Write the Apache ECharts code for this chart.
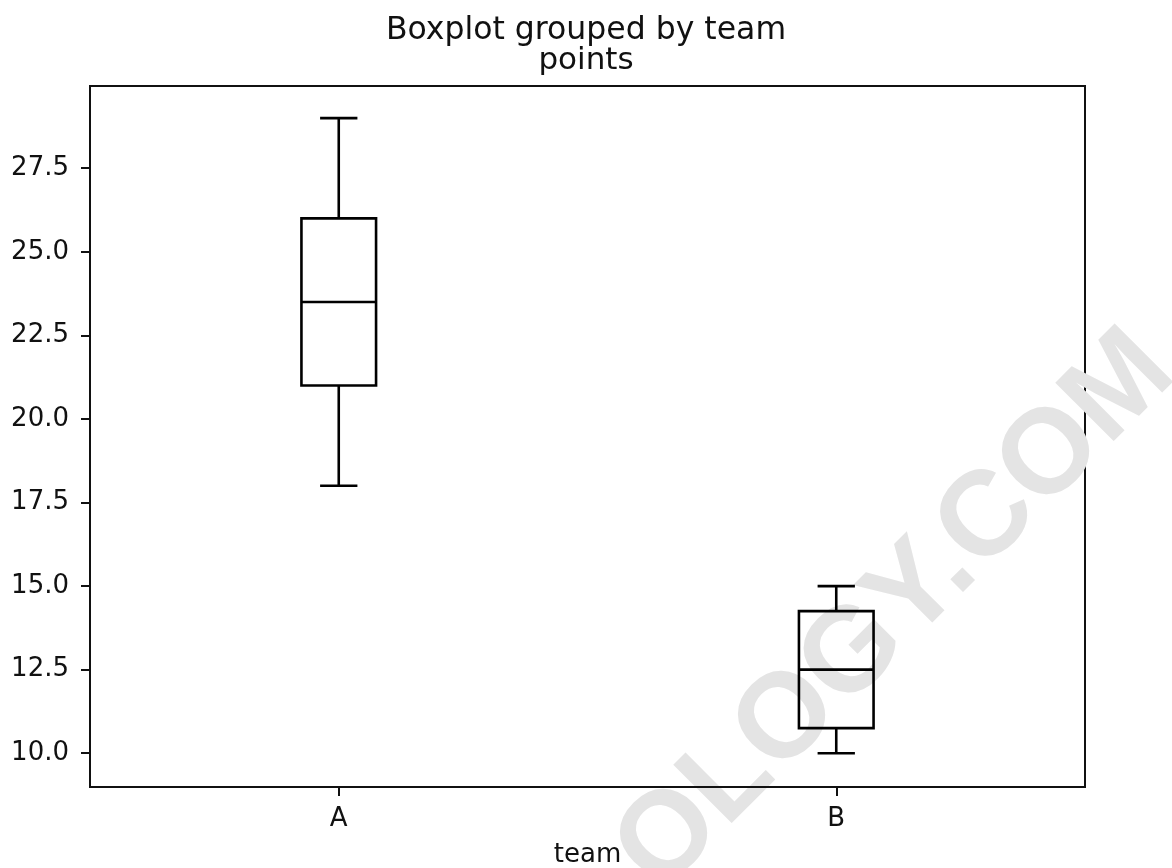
<!DOCTYPE html>
<html>
<head>
<meta charset="utf-8">
<title>Boxplot grouped by team</title>
<script src="https://cdn.jsdelivr.net/npm/echarts@6/dist/echarts.min.js"></script>
<style>
  html, body { margin: 0; padding: 0; background: #fff; }
  #chart { width: 1172px; height: 868px; }
</style>
</head>
<body>
<div id="chart"></div>
<script>
// 数据
const teams = ["A", "B"];
const mins = [18, 10];
const q1s = [21, 10.75];
const medians = [23.5, 12.5];
const q3s = [26, 14.25];
const maxs = [29, 15];
const yTicks = [10, 12.5, 15, 17.5, 20, 22.5, 25, 27.5];

const font = "DejaVu Sans";
const ink = "#111";

const chart = echarts.init(document.getElementById("chart"));

// 每组一行: [类目索引, min, q1, median, q3, max]
const boxData = teams.map((t, i) => [i, mins[i], q1s[i], medians[i], q3s[i], maxs[i]]);

const renderBox = (params, api) => {
  const i = api.value(0);
  const pMin = api.coord([i, api.value(1)]);
  const pQ1 = api.coord([i, api.value(2)]);
  const pMed = api.coord([i, api.value(3)]);
  const pQ3 = api.coord([i, api.value(4)]);
  const pMax = api.coord([i, api.value(5)]);
  const band = api.size([1, 0])[0];
  const half = band * 0.15 / 2; // 箱体半宽
  const cap = half / 2; // 须线端点半宽
  const cx = pMed[0];
  const style = { stroke: "#000", lineWidth: 2.6, fill: null };
  const line = (x1, y1, x2, y2) => ({
    type: "line",
    shape: { x1, y1, x2, y2 },
    style,
  });
  return {
    type: "group",
    children: [
      {
        type: "rect",
        shape: { x: cx - half, y: pQ3[1], width: half * 2, height: pQ1[1] - pQ3[1] },
        style,
      },
      line(cx - half, pMed[1], cx + half, pMed[1]),
      line(cx, pQ3[1], cx, pMax[1]),
      line(cx, pQ1[1], cx, pMin[1]),
      line(cx - cap, pMax[1], cx + cap, pMax[1]),
      line(cx - cap, pMin[1], cx + cap, pMin[1]),
    ],
  };
};

const options = {
  animation: false,
  backgroundColor: "#fff",
  title: [
    {
      text: "Boxplot grouped by team",
      left: "center",
      top: 9,
      textStyle: { fontFamily: font, fontSize: 31.5, fontWeight: "normal", color: ink, lineHeight: 34 },
    },
    {
      text: "points",
      left: "center",
      top: 39,
      textStyle: { fontFamily: font, fontSize: 31, fontWeight: "normal", color: ink, lineHeight: 34 },
    },
  ],
  grid: {
    left: 90,
    right: 87,
    top: 86,
    bottom: 81,
    outerBoundsMode: "none",
    show: true,
    borderColor: "#111",
    borderWidth: 2,
  },
  xAxis: {
    type: "category",
    data: teams,
    name: "team",
    nameLocation: "middle",
    nameGap: 55,
    nameTextStyle: { fontFamily: font, fontSize: 26, color: ink },
    axisLine: { show: true, lineStyle: { color: "#111", width: 2 } },
    axisTick: { show: true, alignWithLabel: true, length: 9, lineStyle: { color: "#111", width: 2 } },
    axisLabel: { fontFamily: font, fontSize: 26, color: ink, margin: 19 },
    splitLine: { show: false },
  },
  yAxis: {
    type: "value",
    min: 8.99,
    max: 29.96,
    axisLine: { show: true, lineStyle: { color: "#111", width: 2 } },
    axisTick: { show: true, length: 9, customValues: yTicks, lineStyle: { color: "#111", width: 2 } },
    axisLabel: {
      fontFamily: font,
      fontSize: 26,
      color: ink,
      margin: 21,
      customValues: yTicks,
      formatter: (v) => v.toFixed(1),
    },
    splitLine: { show: false },
  },
  // 水印
  graphic: [
    {
      type: "text",
      x: 896,
      y: 612,
      rotation: Math.PI / 4,
      z: 0,
      silent: true,
      style: {
        text: "OLOGY.COM",
        fill: "#e4e4e4",
        fontFamily: "Liberation Sans",
        fontWeight: "bold",
        fontSize: 120,
        textAlign: "center",
        textVerticalAlign: "middle",
      },
    },
  ],
  series: [
    {
      type: "custom",
      z: 5,
      renderItem: renderBox,
      encode: { x: 0, y: [1, 2, 3, 4, 5] },
      data: boxData,
    },
  ],
};

chart.setOption(options);
</script>
</body>
</html>
